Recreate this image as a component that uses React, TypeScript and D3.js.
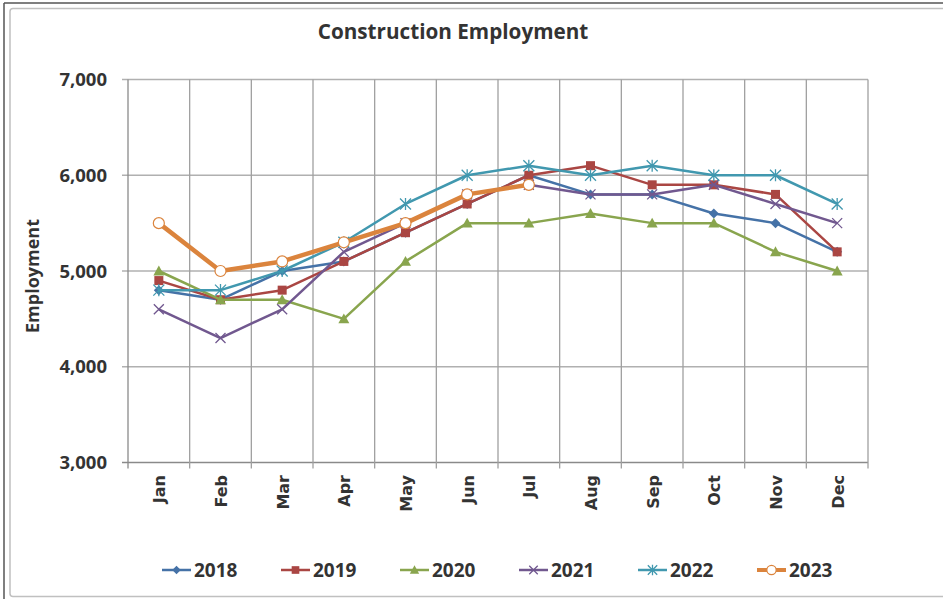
import React from "react";
import * as d3 from "d3";

const months = ["Jan","Feb","Mar","Apr","May","Jun","Jul","Aug","Sep","Oct","Nov","Dec"];
const yTicks = [3000, 4000, 5000, 6000, 7000];
const years = ["2018","2019","2020","2021","2022","2023"];
const s2018 = [4800,4700,5000,5100,5400,5700,6000,5800,5800,5600,5500,5200];
const s2019 = [4900,4700,4800,5100,5400,5700,6000,6100,5900,5900,5800,5200];
const s2020 = [5000,4700,4700,4500,5100,5500,5500,5600,5500,5500,5200,5000];
const s2021 = [4600,4300,4600,5200,5500,5800,5900,5800,5800,5900,5700,5500];
const s2022 = [4800,4800,5000,5300,5700,6000,6100,6000,6100,6000,6000,5700];
const s2023 = [5500,5000,5100,5300,5500,5800,5900];
const seriesValues = [s2018, s2019, s2020, s2021, s2022, s2023];
const colors = ["#4572A7","#AA4643","#89A54E","#71588F","#4198AF","#DB843D"];
const markerTypes = ["diamond","square","triangle","x","star","circle"];

const W = 943, H = 599;
const left = 128, right = 868, top = 79.5, bottom = 462.5;

function Marker({ type, x, y, color, s = 1 }: { type: string; x: number; y: number; color: string; s?: number }) {
  if (type === "diamond") {
    const r = 5 * s;
    return <path d={`M${x},${y - r}L${x + r},${y}L${x},${y + r}L${x - r},${y}Z`} fill={color} />;
  }
  if (type === "square") {
    const r = 4.5 * s;
    return <rect x={x - r} y={y - r} width={2 * r} height={2 * r} fill={color} />;
  }
  if (type === "triangle") {
    const r = 5.5 * s;
    return <path d={`M${x},${y - r}L${x + r},${y + r * 0.8}L${x - r},${y + r * 0.8}Z`} fill={color} />;
  }
  if (type === "x") {
    const r = 5 * s;
    return <path d={`M${x - r},${y - r}L${x + r},${y + r}M${x - r},${y + r}L${x + r},${y - r}`} stroke={color} strokeWidth={1.3} />;
  }
  if (type === "star") {
    const r = 5.5 * s;
    return <path d={`M${x - r},${y - r}L${x + r},${y + r}M${x - r},${y + r}L${x + r},${y - r}M${x},${y - r * 1.1}L${x},${y + r * 1.1}`} stroke={color} strokeWidth={1.3} />;
  }
  const r = 5.5 * s;
  return <circle cx={x} cy={y} r={r} fill="#fff" stroke={color} strokeWidth={1.2} />;
}

export default function App() {
  const x = d3.scaleBand<string>().domain(months).range([left, right]);
  const bw = x.bandwidth();
  const cx = (m: string) => (x(m) as number) + bw / 2;
  const y = d3.scaleLinear().domain([3000, 7000]).range([bottom, top]);
  const line = d3.line<number>().x((_, i) => cx(months[i])).y((d) => y(d));
  const fmt = d3.format(",");
  const boundaries = months.map((m) => x(m) as number).concat([right]);
  const font = "'Open Sans', Lato, sans-serif";

  return (
    <svg width={W} height={H} style={{ position: "absolute", left: 0, top: 0, background: "#fff" }}>
      <line x1={4} y1={3} x2={W} y2={3} stroke="#555" strokeWidth={1.5} />
      <line x1={4} y1={3} x2={4} y2={H} stroke="#555" strokeWidth={1.5} />
      <rect x={10} y={8.5} width={W} height={588} fill="none" stroke="#c0c0c0" strokeWidth={1.5} rx={3} />

      <text x={453} y={39} textAnchor="middle" fontFamily={font} fontWeight="bold" fontSize={20.7} fill="#333">Construction Employment</text>

      {yTicks.map((t) => (
        <g key={t}>
          <line x1={left - 6} x2={right} y1={y(t)} y2={y(t)} stroke={t === 3000 ? "#8a8a8a" : "#b0b0b0"} strokeWidth={1.3} />
          <text x={107} y={y(t)} dy="0.36em" textAnchor="end" fontFamily={font} fontWeight="bold" fontSize={18.5} fill="#333">{fmt(t)}</text>
        </g>
      ))}
      {boundaries.map((b, i) => (
        <line key={i} x1={b} x2={b} y1={top} y2={bottom + 6} stroke={i === 0 ? "#8a8a8a" : "#a0a0a0"} strokeWidth={1.3} />
      ))}

      {months.map((m) => (
        <text key={m} transform={`translate(${cx(m) + 1},${475}) rotate(-90)`} dy="0.35em" textAnchor="end" fontFamily="'DejaVu Sans', Verdana, sans-serif" fontWeight="bold" fontSize={16} fill="#333">{m}</text>
      ))}

      <text transform={`translate(33,276) rotate(-90)`} dy="0.35em" textAnchor="middle" fontFamily={font} fontWeight="bold" fontSize={18} fill="#333">Employment</text>

      {seriesValues.map((vals, si) => (
        <g key={years[si]}>
          <path d={line(vals) as string} fill="none" stroke={colors[si]} strokeWidth={si === 5 ? 4.5 : 2.5} strokeLinejoin="round" />
          {vals.map((v, i) => (
            <Marker key={i} type={markerTypes[si]} x={cx(months[i])} y={y(v)} color={colors[si]} />
          ))}
        </g>
      ))}

      {years.map((yr, i) => {
        const lx = 162 + i * 119;
        const ly = 570;
        return (
          <g key={yr}>
            <line x1={lx} x2={lx + 29} y1={ly} y2={ly} stroke={colors[i]} strokeWidth={i === 5 ? 4 : 2.5} />
            <Marker type={markerTypes[i]} x={lx + 14.5} y={ly} color={colors[i]} s={0.85} />
            <text x={lx + 32} y={ly} dy="0.36em" fontFamily={font} fontWeight="bold" fontSize={19} fill="#333">{yr}</text>
          </g>
        );
      })}
    </svg>
  );
}
